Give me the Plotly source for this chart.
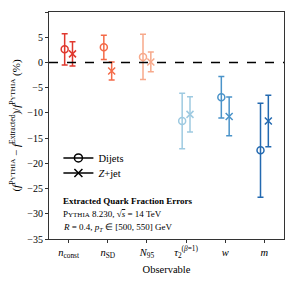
import plotly.graph_objects as go

observables = ["<i>n</i><sub>const</sub>", "<i>n</i><sub>SD</sub>", "<i>N</i><sub>95</sub>",
               "<i>τ</i><sub>2</sub><sup>(<i>β</i>=1)</sup>", "<i>w</i>", "<i>m</i>"]
colors = ["#e0382e", "#f46a48", "#f7a98b", "#9ecae1", "#4a93c9", "#2369b0"]
dijet_vals = [2.6, 3.0, 1.1, -11.6, -6.9, -17.4]
dijet_errs = [3.1, 2.4, 4.5, 5.5, 4.1, 9.3]
zjet_vals = [1.7, -1.7, 0.1, -10.3, -10.7, -11.6]
zjet_errs = [2.4, 1.8, 1.95, 3.5, 3.85, 5.1]
ytick_vals = [10, 5, 0, -5, -10, -15, -20, -25, -30, -35]
ytick_text = ["10", "5", "0", "−5", "−10", "−15", "−20", "−25", "−30", "−35"]

FONT = "Liberation Serif"
fig = go.Figure()

for i, c in enumerate(colors):
    pos = i + 1
    fig.add_trace(go.Scatter(
        x=[pos - 0.1], y=[dijet_vals[i]], mode="markers",
        marker=dict(symbol="circle-open", size=7, color=c, line=dict(width=1.5, color=c)),
        error_y=dict(type="data", array=[dijet_errs[i]], color=c, thickness=1.5, width=3),
        showlegend=False))
    fig.add_trace(go.Scatter(
        x=[pos + 0.1], y=[zjet_vals[i]], mode="markers",
        marker=dict(symbol="x-thin-open", size=7, color=c, line=dict(width=1.5, color=c)),
        error_y=dict(type="data", array=[zjet_errs[i]], color=c, thickness=1.5, width=3),
        showlegend=False))

fig.add_trace(go.Scatter(x=[None], y=[None], mode="lines+markers", name="Dijets",
                         line=dict(color="black", width=1.5), legend="legend",
                         marker=dict(symbol="circle-open", size=8, color="black", line=dict(width=1.5))))
fig.add_trace(go.Scatter(x=[None], y=[None], mode="lines+markers", name="<i>Z</i>+jet",
                         line=dict(color="black", width=1.5), legend="legend2",
                         marker=dict(symbol="x-thin-open", size=8, color="black", line=dict(width=1.5))))

fig.add_shape(type="line", xref="paper", x0=0, x1=1, yref="y", y0=0, y1=0,
              line=dict(color="black", width=1.5, dash="dash"))

fig.add_annotation(xref="paper", yref="paper", x=0.05, y=0.167, xanchor="left", yanchor="middle",
                   text="<b>Extracted Quark Fraction Errors</b>", showarrow=False,
                   font=dict(family=FONT, size=9, color="black"))
fig.add_annotation(xref="paper", yref="paper", x=0.05, y=0.108, xanchor="left", yanchor="middle",
                   text="P<span style='font-size:7px'>YTHIA</span> 8.230, √<span style='text-decoration:overline'><i>s</i></span> = 14 TeV",
                   showarrow=False, font=dict(family=FONT, size=9, color="black"))
fig.add_annotation(xref="paper", yref="paper", x=0.05, y=0.05, xanchor="left", yanchor="middle",
                   text="<i>R</i> = 0.4, <i>p</i><sub><i>T</i></sub> ∈ [500, 550] GeV",
                   showarrow=False, font=dict(family=FONT, size=9, color="black"))

leg_common = dict(xanchor="left", yanchor="middle", bgcolor="rgba(0,0,0,0)",
                  font=dict(family=FONT, size=10.5, color="black"), itemwidth=30)
fig.update_layout(
    width=287, height=274,
    margin=dict(l=41, r=11, t=4, b=43),
    paper_bgcolor="white", plot_bgcolor="white",
    font=dict(family=FONT, size=10, color="black"),
    legend=dict(x=0.04, y=0.357, **leg_common),
    legend2=dict(x=0.04, y=0.291, **leg_common),
    xaxis=dict(range=[0.5, 6.5], tickvals=[1, 2, 3, 4, 5, 6], ticktext=observables,
               showgrid=False, zeroline=False, showline=True, linecolor="#333", linewidth=1,
               mirror=True, ticks="outside", ticklen=3, tickcolor="#333", automargin=False,
               tickfont=dict(size=10.5),
               title=dict(text="Observable", standoff=6, font=dict(size=10.5))),
    yaxis=dict(range=[-35, 10], tickvals=ytick_vals, ticktext=ytick_text,
               showgrid=False, zeroline=False, showline=True, linecolor="#333", linewidth=1,
               mirror=True, ticks="outside", ticklen=3, tickcolor="#333", automargin=False,
               tickfont=dict(size=10),
               title=dict(text="(<i>f</i><sup>P<span style='font-size:7px'>YTHIA</span></sup> − <i>f</i><sup>Extracted</sup>)/<i>f</i><sup>P<span style='font-size:7px'>YTHIA</span></sup> (%)",
                          standoff=4, font=dict(size=11))),
)

fig.write_html("out.html")
